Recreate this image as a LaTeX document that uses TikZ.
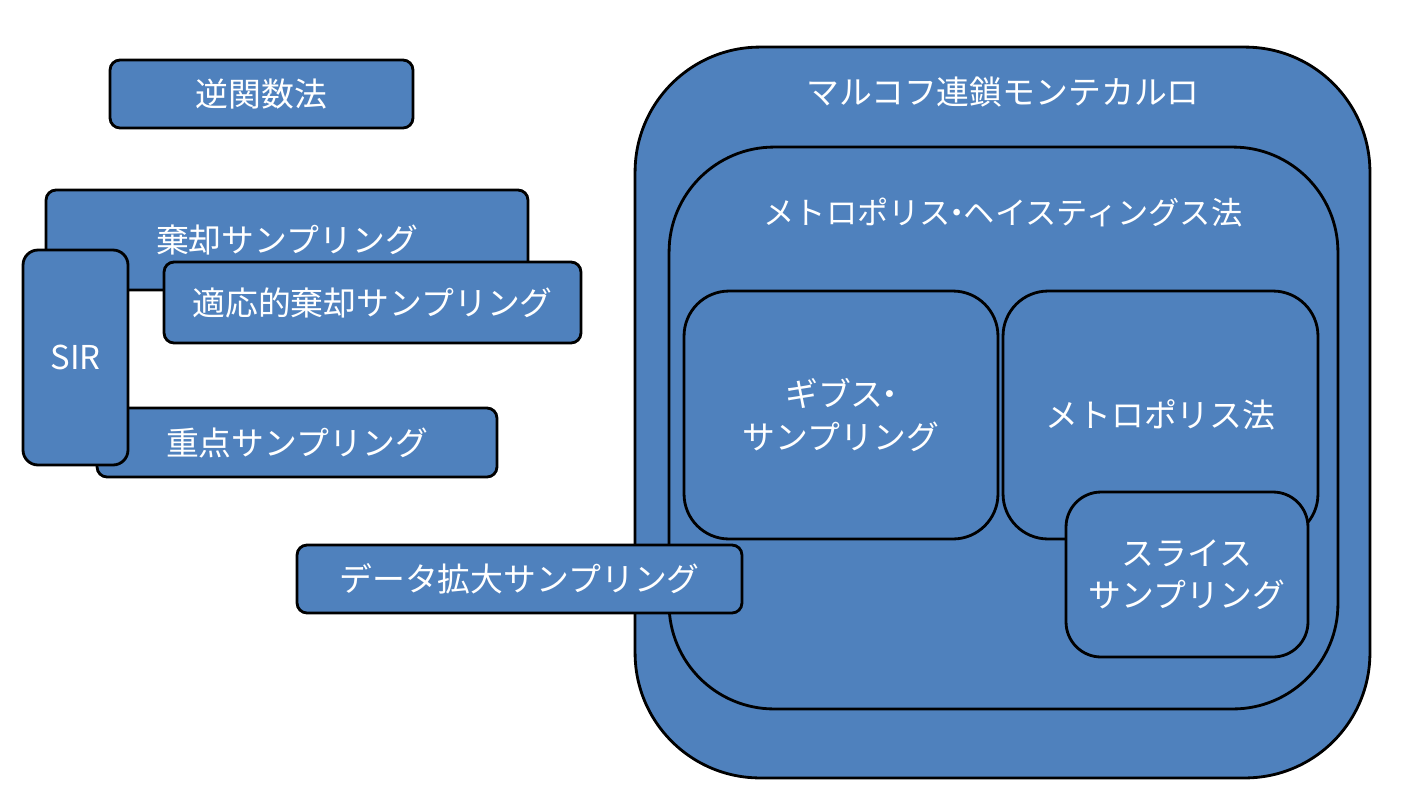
\documentclass[tikz,border=0pt]{standalone}
\usepackage{fontspec}
\setmainfont{Noto Sans CJK JP}
\definecolor{boxblue}{HTML}{4F81BD}
% narrow middle dot between katakana words
\newcommand\nkdot{\makebox[0.4em][c]{・}}
\begin{document}
\begin{tikzpicture}[x=0.02cm, y=-0.02cm,
  box/.style={draw=black, line width=1.6pt, fill=boxblue, rectangle,
    text=white, align=center, inner sep=0pt,
    font=\fontsize{18.7}{24}\selectfont},
  lbl/.style={text=white, inner sep=0pt, align=center,
    font=\fontsize{18.7}{24}\selectfont}]
\useasboundingbox (0,0) rectangle (1419,809);

% Markov chain Monte Carlo family
\node[box, minimum width=14.7cm, minimum height=14.62cm, rounded corners=2.5cm] (mcmc) at (1002.5,412.5) {};
\node[lbl] (mcmcT) at (1003,92) {マルコフ連鎖モンテカルロ};
\node[box, minimum width=13.38cm, minimum height=11.24cm, rounded corners=2.1cm] (mh) at (1003.5,428) {};
\node[lbl, font=\fontsize{17.8}{24}\selectfont] (mhT) at (1003,212) {メトロポリス\nkdot ヘイスティングス法};
\node[box, minimum width=6.28cm, minimum height=4.96cm, rounded corners=0.9cm] (gibbs) at (841,415) {ギブス\nkdot\\サンプリング};
\node[box, minimum width=6.3cm, minimum height=4.96cm, rounded corners=0.9cm] (metro) at (1160.5,415) {メトロポリス法};
\node[box, minimum width=4.84cm, minimum height=3.3cm, rounded corners=0.7cm] (slice) at (1187,574.5) {スライス\\サンプリング};

% Data augmentation overlaps the MCMC frame
\node[box, minimum width=8.9cm, minimum height=1.36cm, rounded corners=0.2cm] (da) at (519.5,579) {データ拡大サンプリング};

% Independent sampling methods
\node[box, minimum width=6.06cm, minimum height=1.36cm, rounded corners=0.2cm] (inv) at (261.5,94) {逆関数法};
\node[box, minimum width=9.64cm, minimum height=2.0cm, rounded corners=0.2cm] (rej) at (287,240) {棄却サンプリング};
\node[box, minimum width=8.34cm, minimum height=1.62cm, rounded corners=0.2cm] (ars) at (372.5,302.5) {適応的棄却サンプリング};
\node[box, minimum width=8.0cm, minimum height=1.38cm, rounded corners=0.2cm] (is) at (297,442.5) {重点サンプリング};
\node[box, minimum width=2.1cm, minimum height=4.3cm, rounded corners=0.3cm] (sir) at (75.5,357.5) {SIR};
\end{tikzpicture}
\end{document}
